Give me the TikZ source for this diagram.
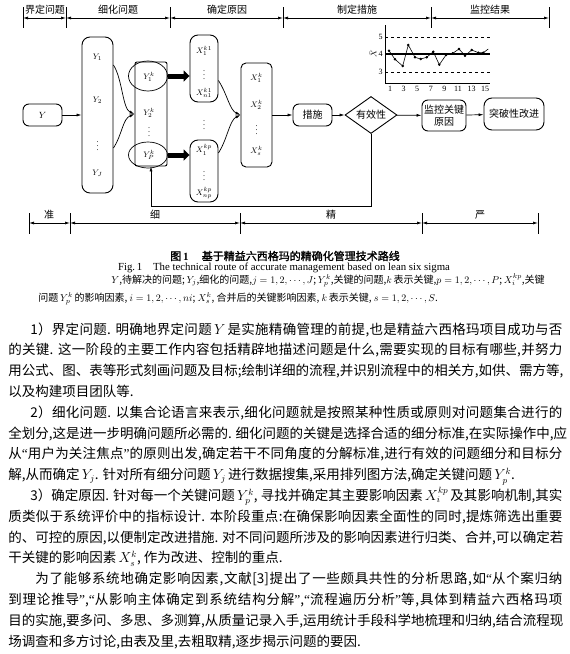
\documentclass[tikz,border=0pt]{standalone}
\usepackage{fontspec}
\setmainfont{Liberation Serif}
\newfontfamily\cjk{Noto Sans CJK SC}
\newfontfamily\cjkb[FakeBold=1.5]{Noto Sans CJK SC}
% stretchable glue between CJK characters, so that lines can be justified
\newcount\cjkcode
\cjkcode="4E00
\loop \XeTeXcharclass\cjkcode=7 \advance\cjkcode by 1 \ifnum\cjkcode<"A000 \repeat
\cjkcode="3000
\loop \XeTeXcharclass\cjkcode=7 \advance\cjkcode by 1 \ifnum\cjkcode<"3040 \repeat
\cjkcode="FF00
\loop \XeTeXcharclass\cjkcode=7 \advance\cjkcode by 1 \ifnum\cjkcode<"FF60 \repeat
\XeTeXinterchartokenstate=1
\newcommand\cjkglue{\hskip 0pt plus 2pt\relax}
\XeTeXinterchartoks 7 7 = {\cjkglue}
\XeTeXinterchartoks 0 7 = {\cjkglue}
\XeTeXinterchartoks 7 0 = {\cjkglue}
\newcommand\lqt{{\rmfamily“}}
\newcommand\rqt{{\rmfamily”}}
\usepackage{tikz}
\usetikzlibrary{positioning,arrows.meta,shapes.geometric}

\begin{document}
\begin{tikzpicture}[x=1pt, y=-1pt, >={Latex[length=5pt,width=3pt]}, line width=0.7pt,
    box/.style={draw, rounded corners=6pt, inner sep=0pt, line width=0.9pt},
    lbl/.style={font=\cjk\fontsize{10}{12}\selectfont, inner sep=1pt},
    sym/.style={font=\fontsize{8}{9}\selectfont, inner sep=0pt},
    txt/.style={anchor=base west, inner sep=0pt, font=\cjk\fontsize{13.5}{16}\selectfont},
    note/.style={anchor=base west, inner sep=0pt, font=\cjk\fontsize{10}{12}\selectfont},
    bigarrow/.style={line width=5pt, -{Triangle[length=6pt,width=11pt]}}]
    \useasboundingbox[fill=white] (0,0) rectangle (570,654);

    % Stage bars
    \foreach \n/\x in {a/23,b/66,c/170,d/283,e/431,f/549} {
        \coordinate (t\n) at (\x,18);
        \draw ([yshift=11pt]t\n) -- ([yshift=-10pt]t\n);
    }
    \foreach \a/\b in {ta/tb,tb/tc,tc/td,td/te,te/tf}
        \draw[<->] (\a) -- (\b);
    \node[lbl] (s1) at (45,10) {界定问题};
    \node[lbl] (s2) at (118,10) {细化问题};
    \node[lbl] (s3) at (227,10) {确定原因};
    \node[lbl] (s4) at (357,10) {制定措施};
    \node[lbl] (s5) at (490,10) {监控结果};

    \foreach \n/\x in {a/29,b/70,c/240,d/422,e/538} {
        \coordinate (b\n) at (\x,223);
        \draw ([yshift=10pt]b\n) -- ([yshift=-11pt]b\n);
    }
    \foreach \a/\b in {ba/bb,bb/bc,bc/bd,bd/be}
        \draw[<->] (\a) -- (\b);
    \node[lbl] (r1) at (49,215) {准};
    \node[lbl] (r2) at (155,215) {细};
    \node[lbl] (r3) at (331,215) {精};
    \node[lbl] (r4) at (480,215) {严};

    % Nodes
    \node[box, minimum width=39pt, minimum height=22pt, font=\fontsize{9}{10}\selectfont] (y) at (42.5,115) {$Y$};
    \node[box, rounded corners=8pt, minimum width=31pt, minimum height=156pt] (yj) at (97.5,115) {};
    \node[sym] (y1) at (97.5,57) {$Y_1$};
    \node[sym] (y2) at (97.5,100) {$Y_2$};
    \node[sym] (yd) at (97.5,143) {$\vdots$};
    \node[sym] (yJ) at (97.5,173) {$Y_J$};

    \node[box, rounded corners=2pt, minimum width=32pt, minimum height=104pt] (yk) at (151,114) {};
    \node[sym] (yk1) at (149,77) {$Y^k_1$};
    \node[sym] (yk2) at (149,113) {$Y^k_2$};
    \node[sym] (ykd) at (149,129) {$\vdots$};
    \node[sym] (ykP) at (149,155) {$Y^k_P$};
    \node[draw, ellipse, minimum width=39pt, minimum height=30pt] (ek1) at (148,76) {};
    \node[draw, ellipse, minimum width=39pt, minimum height=26pt] (ekP) at (148,155) {};

    \node[box, rounded corners=8pt, minimum width=28pt, minimum height=67pt] (x1) at (204,68.5) {};
    \node[sym] (x11) at (204,51) {$X^{k1}_1$};
    \node[sym] (x1d) at (204,72) {$\vdots$};
    \node[sym] (x1n) at (204,93) {$X^{k1}_{n1}$};
    \node[sym] (xmid) at (204,122) {$\vdots$};
    \node[box, rounded corners=8pt, minimum width=28pt, minimum height=62pt] (xp) at (204,171) {};
    \node[sym] (xp1) at (204,150) {$X^{kp}_1$};
    \node[sym] (xpd) at (204,173) {$\vdots$};
    \node[sym] (xpn) at (204,193) {$X^{kp}_{np}$};

    \node[box, rounded corners=5pt, minimum width=31pt, minimum height=104pt] (xs) at (256.5,115) {};
    \node[sym] (xs1) at (256.5,78) {$X^k_1$};
    \node[sym] (xs2) at (256.5,105) {$X^k_2$};
    \node[sym] (xsd) at (256.5,127) {$\vdots$};
    \node[sym] (xsS) at (256.5,151) {$X^k_s$};

    \node[box, lbl, minimum width=39pt, minimum height=22pt] (act) at (312.5,115) {措施};
    \node[draw, diamond, aspect=1.4, lbl, line width=0.9pt, minimum width=52pt, minimum height=37pt, inner sep=0pt] (valid) at (371,115) {有效性};
    \node[box, lbl, minimum width=44pt, minimum height=31pt, align=center, font=\cjk\fontsize{10}{11.5}\selectfont] (mon) at (444,115.5) {监控关键\\原因};
    \node[box, lbl, rounded corners=8pt, minimum width=60pt, minimum height=32pt] (brk) at (514,114) {突破性改进};

    % Arrows
    \draw[->] (y) -- (yj);
    \draw[->] ([yshift=50pt]yj.east) .. controls +(9,14) and +(-12,-5) .. (yk.west);
    \draw[->] ([yshift=-33pt]yj.east) .. controls +(9,-14) and +(-12,5) .. (yk.west);
    \draw[bigarrow] (ek1.east) -- (ek1.east -| x1.west);
    \draw[bigarrow] (ekP.east) -- (ekP.east -| xp.west);
    \draw[->] ([yshift=-12pt]x1.east) .. controls +(9,14) and +(-11,-5) .. (xs.west);
    \draw[->] ([yshift=18pt]xp.east) .. controls +(9,-14) and +(-11,5) .. (xs.west);
    \draw[->] (xs) -- (act);
    \draw[->] (act) -- (valid);
    \draw[->] (valid) -- (mon);
    \draw[->] (mon) -- (brk);
    \coordinate (back) at (151,206);
    \draw[->] (valid.south) |- (back) -- (yk.south);

    % Control chart
    \draw (385,25) -- (385,83) -- (490,83);
    \coordinate (c5) at (385,37);
    \coordinate (c4) at (385,54);
    \coordinate (c3) at (385,72);
    \draw[dashed] (c5) -- (490,37);
    \draw[line width=1.2pt] (c4) -- (490,54);
    \draw[dashed] (c3) -- (490,72);
    \node[sym, left=2pt of c5] (n5) {5};
    \node[sym, left=2pt of c4] (n4) {4};
    \node[sym, left=2pt of c3] (n3) {3};
    \node[sym, rotate=90] (xbar) at (373,54) {$\bar{X}$};
    \foreach \i in {1,3,...,15}
        \node[sym] (xl\i) at ({390+6.8*(\i-1)},89) {\i};
    \draw[line width=0.6pt] plot[mark=*, mark size=0.9pt] coordinates {(389,50.7) (395,59.3) (402.7,66) (408.3,45)
        (415,57.3) (420.7,59) (426.7,57.3) (433.3,51.7) (439.3,64.7) (446,55) (452.7,53.3) (459,49)
        (465,55.7) (471.7,50) (478.3,52.7) (483.3,52.7)};
    \draw[line width=0.6pt] (483.3,52.7) -- (488.3,49);

    % Caption
    \node[font=\fontsize{11}{13}\selectfont] (title) at (285,256) {{\cjkb 图}\,\textbf{1}\hspace{1.2em}{\cjkb 基于精益六西格玛的精确化管理技术路线}};
    \node[font=\fontsize{10.8}{12}\selectfont] (figen) at (284,268) {Fig.\,1\hspace{1em}The technical route of accurate management based on lean six sigma};
    \node[note] (n1) at (111,283) {\hbox to 420pt{$Y$,待解决的问题; $Y_j$,细化的问题,$j=1,2,\cdots,J$; $Y^k_p$,关键的问题,$k$\,表示关键,$p=1,2,\cdots,P$; $X^{kp}_i$,关键}};
    \node[note] (n2) at (38,301) {问题\,$Y^k_p$\,的影响因素, $i=1,2,\cdots,ni$; $X^k_s$, 合并后的关键影响因素, $k$\,表示关键, $s=1,2,\cdots,S$.};

    % Text
    \node[txt] (p1a) at (30,334) {\hbox to 532pt{1）界定问题. 明确地界定问题\,$Y$\,是实施精确管理的前提,也是精益六西格玛项目成功与否}};
    \node[txt] (p1b) at (8,354.8) {\hbox to 554pt{的关键. 这一阶段的主要工作内容包括精辟地描述问题是什么,需要实现的目标有哪些,并努力}};
    \node[txt] (p1c) at (8,375.6) {\hbox to 554pt{用公式、图、表等形式刻画问题及目标;绘制详细的流程,并识别流程中的相关方,如供、需方等,}};
    \node[txt] (p1d) at (8,396.4) {以及构建项目团队等.};
    \node[txt] (p2a) at (30,417.2) {\hbox to 532pt{2）细化问题. 以集合论语言来表示,细化问题就是按照某种性质或原则对问题集合进行的}};
    \node[txt] (p2b) at (8,438) {\hbox to 554pt{全划分,这是进一步明确问题所必需的. 细化问题的关键是选择合适的细分标准,在实际操作中,应}};
    \node[txt] (p2c) at (8,458.8) {\hbox to 554pt{从\lqt 用户为关注焦点\rqt 的原则出发,确定若干不同角度的分解标准,进行有效的问题细分和目标分}};
    \node[txt] (p2d) at (8,479.6) {解,从而确定\,$Y_j$. 针对所有细分问题\,$Y_j$\,进行数据搜集,采用排列图方法,确定关键问题\,$Y^k_p$.};
    \node[txt] (p3a) at (30,500.4) {\hbox to 532pt{3）确定原因. 针对每一个关键问题\,$Y^k_p$, 寻找并确定其主要影响因素\,$X^{kp}_i$\,及其影响机制,其实}};
    \node[txt] (p3b) at (8,521.2) {\hbox to 554pt{质类似于系统评价中的指标设计. 本阶段重点:在确保影响因素全面性的同时,提炼筛选出重要}};
    \node[txt] (p3c) at (8,542) {\hbox to 554pt{的、可控的原因,以便制定改进措施. 对不同问题所涉及的影响因素进行归类、合并,可以确定若}};
    \node[txt] (p3d) at (8,562.8) {干关键的影响因素\,$X^k_s$, 作为改进、控制的重点.};
    \node[txt] (p4a) at (35,583.6) {\hbox to 527pt{为了能够系统地确定影响因素,文献[3]提出了一些颇具共性的分析思路,如\lqt 从个案归纳}};
    \node[txt] (p4b) at (8,604.4) {\hbox to 554pt{到理论推导\rqt,\lqt 从影响主体确定到系统结构分解\rqt,\lqt 流程遍历分析\rqt 等,具体到精益六西格玛项}};
    \node[txt] (p4c) at (8,625.2) {\hbox to 554pt{目的实施,要多问、多思、多测算,从质量记录入手,运用统计手段科学地梳理和归纳,结合流程现}};
    \node[txt] (p4d) at (8,646) {场调查和多方讨论,由表及里,去粗取精,逐步揭示问题的要因.};
\end{tikzpicture}
\end{document}
